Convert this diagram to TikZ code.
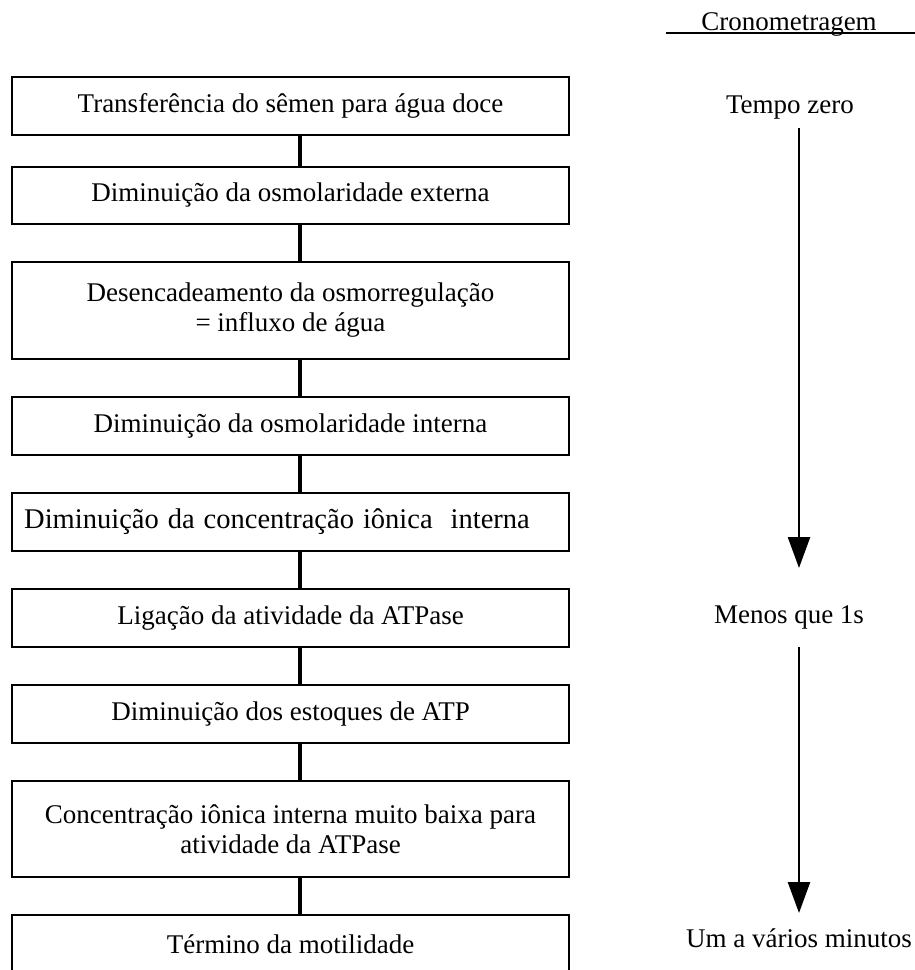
\documentclass[tikz,border=0pt]{standalone}
\usepackage{fontspec}
\setmainfont{Liberation Serif}
\usetikzlibrary{positioning,arrows.meta}

\begin{document}
\begin{tikzpicture}[x=1pt,y=1pt,font=\fontsize{27}{30}\selectfont,
    passo/.style={draw,line width=2.5pt,minimum width=557pt,align=center,inner sep=0pt,outer sep=0pt},
    elo/.style={line width=4.5pt},
    seta/.style={line width=2.5pt,-{Triangle[length=31pt,width=22pt]}}]
\useasboundingbox (0,0) rectangle (915,-970);
% fluxo de eventos
\foreach \X/\H/\D [count=\Y,remember=\Y as \LastY] in
    {Transferência do sêmen para água doce/58pt/0pt,
     Diminuição da osmolaridade externa/57pt/32pt,
     Desencadeamento da osmorregulação\\ = influxo de água/97pt/38pt,
     Diminuição da osmolaridade interna/58pt/38pt,
     {\fontsize{28.5}{30}\selectfont\spaceskip=9pt Diminuição da concentração iônica\ \ interna\hbox to 27pt{}}/58pt/38pt,
     Ligação da atividade da ATPase/58pt/38pt,
     Diminuição dos estoques de ATP/58pt/38pt,
     Concentração iônica interna muito baixa para\\ atividade da ATPase/96pt/38pt,
     Término da motilidade/58pt/38pt}
    {\ifnum\Y=1
    \node[passo,minimum height=\H] (F-\Y) at (290.5,-106) {\X};
    \else
    \node[passo,minimum height=\H,below=\D of F-\LastY] (F-\Y) {\X};
    \draw[elo] ([xshift=9.5pt]F-\LastY.south) -- ([xshift=9.5pt]F-\Y.north);
    \fi}
% cronometragem
\node[anchor=base] (crono) at (789,-30) {Cronometragem};
\draw[line width=1.5pt] (666,-33) -- (915,-33);
\coordinate (eixo) at (799,0);
\node[anchor=base] (t0) at (790,-113) {Tempo zero};
\node[anchor=base] (t1) at (789,-623) {Menos que 1s};
\node[anchor=base] (t2) at (799,-947) {Um a vários minutos};
\draw[seta,shorten <=15pt,shorten >=55pt] (t0.base -| eixo) -- (t1.base -| eixo);
\draw[seta,shorten <=24pt,shorten >=34pt] (t1.base -| eixo) -- (t2.base -| eixo);
\end{tikzpicture}
\end{document}
